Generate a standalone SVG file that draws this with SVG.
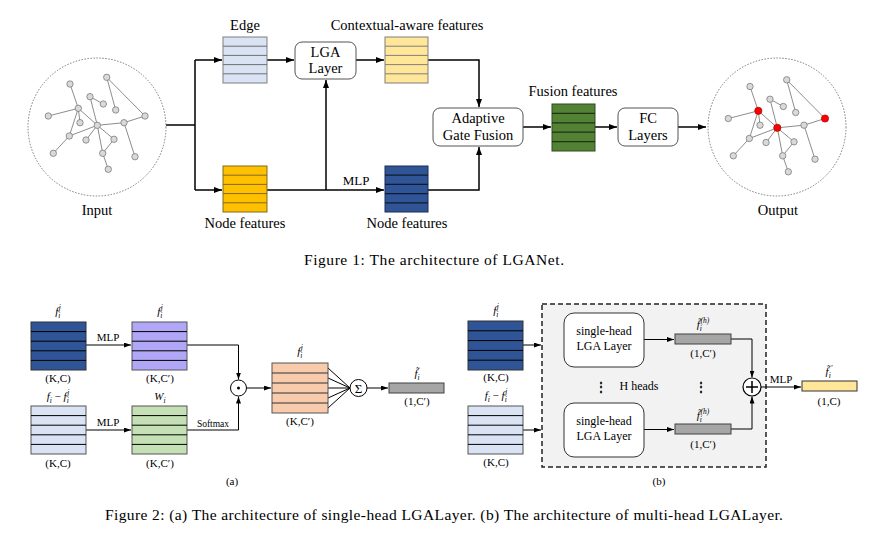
<svg xmlns="http://www.w3.org/2000/svg" width="890" height="535" viewBox="0 0 890 535" font-family="'Liberation Serif','Times New Roman',serif">
<defs>
<style>
.t{font-family:"Liberation Serif","Times New Roman",serif;fill:#000}
.lg{font-size:14.5px}
.md{font-size:12px}
.sm{font-size:11px}
.xs{font-size:9.5px}
.it{font-style:italic}
.sb{font-size:7.5px;font-style:italic}
.ln{stroke:#000;stroke-width:1.5;fill:none}
.ln2{stroke:#000;stroke-width:1;fill:none}
.ge{stroke:#707070;stroke-width:0.8;fill:none}
.gn{fill:#d9d9d9;stroke:#6f6f6f;stroke-width:0.7}
.rd{fill:#ff0000;stroke:#a00000;stroke-width:0.7}
.ring{fill:none;stroke:#7c7c7c;stroke-width:1;stroke-dasharray:1.5,1.5}
.rbox{fill:#fff;stroke:#555;stroke-width:1}
</style>
<marker id="ah" viewBox="0 0 8 6" refX="8" refY="3" markerWidth="8" markerHeight="6" markerUnits="userSpaceOnUse" orient="auto"><path d="M0,0 L8,3 L0,6 z" fill="#000"/></marker>
<marker id="as" viewBox="0 0 7 5" refX="7" refY="2.5" markerWidth="7" markerHeight="5" markerUnits="userSpaceOnUse" orient="auto"><path d="M0,0 L7,2.5 L0,5 z" fill="#000"/></marker>
<g id="graphShape">
<path class="ge" d="M70,84 L78.3,108.3 M48.3,116 L78.3,108.3 M78.3,108.3 L80,122.7 M78.3,108.3 L97.3,125.3 M78.3,108.3 L69.3,136 M69.3,136 L53.3,153.3 M69.3,136 L97.3,125.3 M90,96.7 L97.3,125.3 M90,96.7 L103.3,104 M106.7,77.3 L115.7,110 M106.7,77.3 L145,116 M145,116 L124,122.7 M124,122.7 L97.3,125.3 M124,122.7 L135,156.7 M97.3,125.3 L86,140 M97.3,125.3 L114,139.3 M97.3,125.3 L102.7,153.3 M114,139.3 L102.7,153.3 M102.7,153.3 L108.3,169.3"/>
<circle class="gn" cx="70" cy="84" r="3.2"/>
<circle class="gn" cx="106.7" cy="77.3" r="3.2"/>
<circle class="gn" cx="90" cy="96.7" r="3.2"/>
<circle class="gn" cx="103.3" cy="104" r="3.2"/>
<circle class="gn" cx="115.7" cy="110" r="3.2"/>
<circle class="gn" cx="48.3" cy="116" r="3.2"/>
<circle class="gn" cx="80" cy="122.7" r="3.2"/>
<circle class="gn" cx="124" cy="122.7" r="3.2"/>
<circle class="gn" cx="69.3" cy="136" r="3.2"/>
<circle class="gn" cx="86" cy="140" r="3.2"/>
<circle class="gn" cx="114" cy="139.3" r="3.2"/>
<circle class="gn" cx="102.7" cy="153.3" r="3.2"/>
<circle class="gn" cx="53.3" cy="153.3" r="3.2"/>
<circle class="gn" cx="135" cy="156.7" r="3.2"/>
<circle class="gn" cx="108.3" cy="169.3" r="3.2"/>
</g>
</defs>

<g id="b_frame">
<rect x="542" y="304" width="224" height="163" fill="#f2f2f2" stroke="#222" stroke-width="1.5" stroke-dasharray="5,3"/>
</g>

<g id="connectors">
<path class="ln" d="M166,125 H195 M195,60 V190"/>
<path class="ln" d="M195,60 H222" marker-end="url(#ah)"/>
<path class="ln" d="M195,190 H222" marker-end="url(#ah)"/>
<path class="ln" d="M267,60 H294" marker-end="url(#ah)"/>
<path class="ln" d="M356,60 H384" marker-end="url(#ah)"/>
<path class="ln" d="M428,60 H479 V107" marker-end="url(#ah)"/>
<path class="ln" d="M267,190 H384" marker-end="url(#ah)"/>
<path class="ln" d="M326,190 V80" marker-end="url(#ah)"/>
<path class="ln" d="M428,190 H479 V147" marker-end="url(#ah)"/>
<path class="ln" d="M523,127 H551" marker-end="url(#ah)"/>
<path class="ln" d="M595,127 H617" marker-end="url(#ah)"/>
<path class="ln" d="M678,127 H706" stroke-width="2.2" marker-end="url(#ah)"/>

<path class="ln2" d="M86,345 H131" marker-end="url(#as)"/>
<path class="ln2" d="M86,430 H131" marker-end="url(#as)"/>
<path class="ln2" d="M187,345 H238.5 V379.5" marker-end="url(#as)"/>
<path class="ln2" d="M187,430 H238.5 V396.5" marker-end="url(#as)"/>
<path class="ln2" d="M246.5,388 H271" marker-end="url(#as)"/>
<path class="ln2" d="M328,368 L350,388 M328,378 L350,388 M328,388 L350,388 M328,398 L350,388 M328,408 L350,388" stroke-width="0.8"/>
<path class="ln2" d="M367,388 H388" marker-end="url(#as)"/>

<path class="ln2" d="M523,345 H541" marker-end="url(#as)"/>
<path class="ln2" d="M523,430 H541" marker-end="url(#as)"/>
<path class="ln2" d="M644,339.5 H674" marker-end="url(#as)"/>
<path class="ln2" d="M644,429.5 H674" marker-end="url(#as)"/>
<path class="ln2" d="M731,339 H752 V377.5" marker-end="url(#as)"/>
<path class="ln2" d="M731,429 H752 V396.5" marker-end="url(#as)"/>
<path class="ln2" d="M761,387 H801" marker-end="url(#as)"/>
</g>

<g id="input">
<circle class="ring" cx="97" cy="127" r="69"/>
<use href="#graphShape"/>
<circle class="gn" cx="78.3" cy="108.3" r="3.2"/>
<circle class="gn" cx="97.3" cy="125.3" r="3.2"/>
<circle class="gn" cx="145" cy="116" r="3.2"/>
<text class="t lg" x="97" y="215" text-anchor="middle">Input</text>
</g>

<g id="output">
<circle class="ring" cx="777" cy="127" r="69"/>
<g transform="translate(680,2.5)">
<use href="#graphShape"/>
<circle class="rd" cx="78.3" cy="108.3" r="3.6"/>
<circle class="rd" cx="97.3" cy="125.3" r="3.6"/>
<circle class="rd" cx="145" cy="116" r="3.6"/>
</g>
<text class="t lg" x="778" y="215" text-anchor="middle">Output</text>
</g>

<g id="edge">
<rect x="223" y="37" width="44" height="46" fill="#dae3f3" stroke="#7f7f7f"/>
<path d="M223,46.2 H267 M223,55.4 H267 M223,64.6 H267 M223,73.8 H267" stroke="#6f6f6f" stroke-width="1"/>
<text class="t lg" x="245" y="30" text-anchor="middle">Edge</text>
</g>

<g id="lga">
<rect class="rbox" x="295" y="42" width="61" height="37" rx="7"/>
<text class="t lg" x="325.5" y="56.5" text-anchor="middle">LGA</text>
<text class="t lg" x="325.5" y="73" text-anchor="middle">Layer</text>
</g>

<g id="contextual">
<rect x="385" y="37" width="43" height="46" fill="#ffe699" stroke="#7f7f7f"/>
<path d="M385,46.2 H428 M385,55.4 H428 M385,64.6 H428 M385,73.8 H428" stroke="#7f7f7f" stroke-width="1"/>
<text class="t lg" x="407" y="30" text-anchor="middle">Contextual-aware features</text>
</g>

<g id="nodefeat1">
<rect x="223" y="166" width="44" height="46" fill="#ffc000" stroke="#7f6a20"/>
<path d="M223,175.2 H267 M223,184.4 H267 M223,193.6 H267 M223,202.8 H267" stroke="#7f6a20" stroke-width="1"/>
<text class="t lg" x="245" y="228" text-anchor="middle">Node features</text>
</g>

<text class="t" font-size="13" x="356" y="185" text-anchor="middle">MLP</text>

<g id="nodefeat2">
<rect x="385" y="166" width="43" height="46" fill="#2f5597" stroke="#1a2d52"/>
<path d="M385,175.2 H428 M385,184.4 H428 M385,193.6 H428 M385,202.8 H428" stroke="#111a30" stroke-width="1.2"/>
<text class="t lg" x="407" y="228" text-anchor="middle">Node features</text>
</g>

<g id="agf">
<rect class="rbox" x="433" y="108" width="90" height="38" rx="7"/>
<text class="t lg" x="478" y="123" text-anchor="middle">Adaptive</text>
<text class="t lg" x="478" y="140" text-anchor="middle">Gate Fusion</text>
</g>

<g id="fusion">
<rect x="552" y="104" width="43" height="47" fill="#548235" stroke="#2e4a1e"/>
<path d="M552,113.4 H595 M552,122.8 H595 M552,132.2 H595 M552,141.6 H595" stroke="#1e3214" stroke-width="1.2"/>
<text class="t lg" x="573" y="96" text-anchor="middle">Fusion features</text>
</g>

<g id="fc">
<rect class="rbox" x="618" y="108" width="60" height="38" rx="7"/>
<text class="t lg" x="648" y="123" text-anchor="middle">FC</text>
<text class="t lg" x="648" y="140" text-anchor="middle">Layers</text>
</g>

<text class="t" font-size="15.5" x="304" y="265" textLength="260" lengthAdjust="spacing">Figure 1: The architecture of LGANet.</text>

<!-- (a) -->
<g id="a_fij">
<rect x="31" y="322" width="55" height="48" fill="#2f5597" stroke="#333"/>
<path d="M31,331.6 H86 M31,341.2 H86 M31,350.8 H86 M31,360.4 H86" stroke="#000" stroke-width="1"/>
<text class="t sm" x="58" y="315" text-anchor="middle"><tspan class="it">f</tspan><tspan class="sb" dy="2.5">i</tspan><tspan class="sb" dx="-1.5" dy="-8">j</tspan></text>
<text class="t sm" x="58" y="382" text-anchor="middle">(K,C)</text>
</g>
<text class="t sm" x="108" y="341" text-anchor="middle">MLP</text>
<g id="a_fij2">
<rect x="132" y="322" width="55" height="48" fill="#b1a7f7" stroke="#555"/>
<path d="M132,331.6 H187 M132,341.2 H187 M132,350.8 H187 M132,360.4 H187" stroke="#000" stroke-width="1"/>
<text class="t sm" x="160" y="315" text-anchor="middle"><tspan class="it">f</tspan><tspan class="sb" dy="2.5">i</tspan><tspan class="sb" dx="-1.5" dy="-8">j</tspan></text>
<text class="t sm" x="160" y="382" text-anchor="middle">(K,C′)</text>
</g>
<g id="a_diff">
<rect x="31" y="406" width="55" height="48" fill="#dae3f3" stroke="#555"/>
<path d="M31,415.6 H86 M31,425.2 H86 M31,434.8 H86 M31,444.4 H86" stroke="#000" stroke-width="1"/>
<text class="t sm" x="58" y="400" text-anchor="middle"><tspan class="it">f</tspan><tspan class="sb" dy="2.5">i</tspan><tspan dy="-2.5"> − </tspan><tspan class="it">f</tspan><tspan class="sb" dy="2.5">i</tspan><tspan class="sb" dx="-1.5" dy="-8">j</tspan></text>
<text class="t sm" x="58" y="467" text-anchor="middle">(K,C)</text>
</g>
<text class="t sm" x="108" y="426" text-anchor="middle">MLP</text>
<g id="a_w">
<rect x="132" y="406" width="55" height="48" fill="#c5e0b4" stroke="#555"/>
<path d="M132,415.6 H187 M132,425.2 H187 M132,434.8 H187 M132,444.4 H187" stroke="#000" stroke-width="1"/>
<text class="t sm" x="160" y="400" text-anchor="middle"><tspan class="it">W</tspan><tspan class="sb" dy="2.5">i</tspan></text>
<text class="t sm" x="160" y="467" text-anchor="middle">(K,C′)</text>
</g>
<text class="t xs" x="213" y="427" text-anchor="middle">Softmax</text>
<g id="a_dot">
<circle cx="238.5" cy="388" r="8" fill="#fff" stroke="#000" stroke-width="1"/>
<circle cx="238.5" cy="388" r="1.5" fill="#000"/>
</g>
<g id="a_prod">
<rect x="272" y="363" width="56" height="50" fill="#f8cbad" stroke="#555"/>
<path d="M272,373 H328 M272,383 H328 M272,393 H328 M272,403 H328" stroke="#333" stroke-width="1"/>
<text class="t sm" x="300" y="355" text-anchor="middle"><tspan class="it">f</tspan><tspan class="sb" dy="2.5">i</tspan><tspan class="sb" dx="-1.5" dy="-8">j</tspan></text>
<text class="t sm" x="300" y="425" text-anchor="middle">(K,C′)</text>
</g>
<g id="a_sum">
<circle cx="358.5" cy="388" r="8.5" fill="#fff" stroke="#000" stroke-width="1"/>
<text class="t" font-size="13" x="358.5" y="392.5" text-anchor="middle">Σ</text>
</g>
<g id="a_out">
<rect x="389" y="383" width="55" height="10" fill="#a6a6a6" stroke="#404040"/>
<text class="t sm" x="417" y="377" text-anchor="middle"><tspan class="it">f̃</tspan><tspan class="sb" dy="2.5">i</tspan></text>
<text class="t sm" x="417" y="405" text-anchor="middle">(1,C′)</text>
</g>
<text class="t sm" x="232" y="485" text-anchor="middle">(a)</text>

<!-- (b) -->
<g id="b_fij">
<rect x="468" y="321" width="55" height="49" fill="#2f5597" stroke="#333"/>
<path d="M468,330.8 H523 M468,340.6 H523 M468,350.4 H523 M468,360.2 H523" stroke="#000" stroke-width="1"/>
<text class="t sm" x="496" y="314" text-anchor="middle"><tspan class="it">f</tspan><tspan class="sb" dy="2.5">i</tspan><tspan class="sb" dx="-1.5" dy="-8">j</tspan></text>
<text class="t sm" x="496" y="381" text-anchor="middle">(K,C)</text>
</g>
<g id="b_diff">
<rect x="468" y="406" width="55" height="48" fill="#dae3f3" stroke="#555"/>
<path d="M468,415.6 H523 M468,425.2 H523 M468,434.8 H523 M468,444.4 H523" stroke="#000" stroke-width="1"/>
<text class="t sm" x="496" y="399" text-anchor="middle"><tspan class="it">f</tspan><tspan class="sb" dy="2.5">i</tspan><tspan dy="-2.5"> − </tspan><tspan class="it">f</tspan><tspan class="sb" dy="2.5">i</tspan><tspan class="sb" dx="-1.5" dy="-8">j</tspan></text>
<text class="t sm" x="496" y="466" text-anchor="middle">(K,C)</text>
</g>
<g id="b_head1">
<rect x="564" y="313" width="80" height="54" rx="10" fill="#fff" stroke="#333"/>
<text class="t md" x="604" y="335" text-anchor="middle">single-head</text>
<text class="t md" x="604" y="350" text-anchor="middle">LGA Layer</text>
</g>
<g id="b_head2">
<rect x="564" y="403" width="80" height="54" rx="10" fill="#fff" stroke="#333"/>
<text class="t md" x="604" y="425" text-anchor="middle">single-head</text>
<text class="t md" x="604" y="440" text-anchor="middle">LGA Layer</text>
</g>
<text class="t md" x="601" y="391" text-anchor="middle" font-weight="bold">⋮</text>
<text class="t md" x="639" y="390" text-anchor="middle">H heads</text>
<text class="t md" x="701" y="391" text-anchor="middle" font-weight="bold">⋮</text>
<g id="b_out1">
<rect x="675" y="334" width="56" height="10" fill="#a6a6a6" stroke="#404040"/>
<text class="t sm" x="703" y="328" text-anchor="middle"><tspan class="it">f̃</tspan><tspan class="sb" dy="2.5">i</tspan><tspan class="sb" dx="-1.5" dy="-8">(h)</tspan></text>
<text class="t sm" x="703" y="357" text-anchor="middle">(1,C′)</text>
</g>
<g id="b_out2">
<rect x="675" y="424" width="56" height="10" fill="#a6a6a6" stroke="#404040"/>
<text class="t sm" x="703" y="419" text-anchor="middle"><tspan class="it">f̃</tspan><tspan class="sb" dy="2.5">i</tspan><tspan class="sb" dx="-1.5" dy="-8">(h)</tspan></text>
<text class="t sm" x="703" y="448" text-anchor="middle">(1,C′)</text>
</g>
<g id="b_plus">
<circle cx="752" cy="387" r="9" fill="#fff" stroke="#000" stroke-width="1.2"/>
<path d="M746,387 H758 M752,381 V393" stroke="#000" stroke-width="1.5"/>
</g>
<text class="t sm" x="781" y="383" text-anchor="middle">MLP</text>
<g id="b_final">
<rect x="802" y="381" width="55" height="10" fill="#ffe699" stroke="#333"/>
<text class="t sm" x="829" y="375" text-anchor="middle"><tspan class="it">f̃</tspan><tspan class="sb" dy="2.5">i</tspan><tspan class="sb" dy="-7">′</tspan></text>
<text class="t sm" x="829" y="405" text-anchor="middle">(1,C)</text>
</g>
<text class="t sm" x="659" y="485" text-anchor="middle">(b)</text>

<text class="t" font-size="15.5" x="105" y="520" textLength="678" lengthAdjust="spacing">Figure 2: (a) The architecture of single-head LGALayer. (b) The architecture of multi-head LGALayer.</text>
</svg>
